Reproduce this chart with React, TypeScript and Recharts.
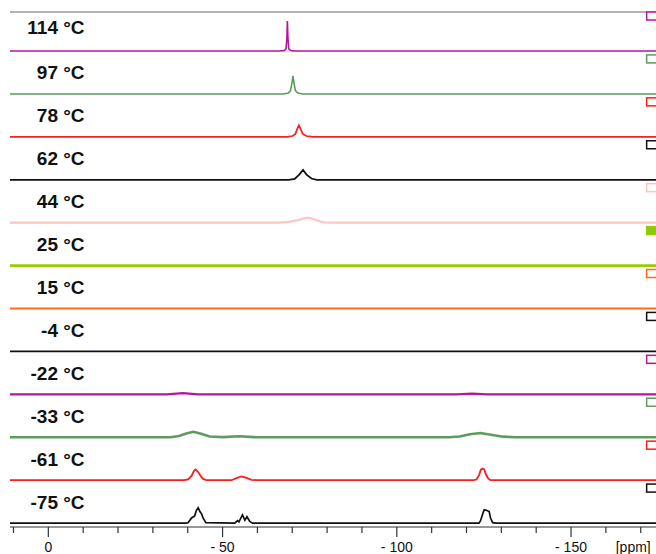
import { LineChart, Line, XAxis, YAxis, ReferenceDot, ReferenceLine } from "recharts";

// temperatures, top trace first
const labels = ["114 °C", "97 °C", "78 °C", "62 °C", "44 °C", "25 °C", "15 °C", "-4 °C", "-22 °C", "-33 °C", "-61 °C", "-75 °C"];
const colors = ["#b5169e", "#5c9c5c", "#ff1c1c", "#111111", "#ffc4c4", "#99cc00", "#ff6a1c", "#111111", "#b5169e", "#5c9c5c", "#ff1c1c", "#111111"];
const widths = [1.6, 1.6, 1.7, 1.8, 2.2, 2.8, 2, 1.8, 2.2, 2.6, 1.8, 1.7];

// spectra as [ppm, intensity] pairs
const s114 = [[11, 0], [-66, 0], [-67.7, 0.01], [-68.2, 0.05], [-68.45, 0.3], [-68.6, 0.7], [-68.75, 0.3], [-69, 0.05], [-69.6, 0.01], [-71, 0], [-185, 0]];
const s97 = [[11, 0], [-67.5, 0], [-68.9, 0.02], [-69.5, 0.08], [-69.9, 0.25], [-70.2, 0.42], [-70.5, 0.25], [-70.9, 0.08], [-71.6, 0.02], [-73, 0], [-185, 0]];
const s78 = [[11, 0], [-68.5, 0], [-70.1, 0.02], [-70.9, 0.07], [-71.4, 0.18], [-71.9, 0.27], [-72.4, 0.18], [-73, 0.07], [-74, 0.02], [-76, 0], [-185, 0]];
const s62 = [[11, 0], [-69, 0], [-70.7, 0.02], [-72, 0.12], [-73.1, 0.23], [-74.1, 0.12], [-75.5, 0.03], [-77, 0], [-185, 0]];
const s44 = [[11, 0], [-66, 0], [-69, 0.02], [-71.6, 0.06], [-73.4, 0.1], [-74.5, 0.12], [-75.6, 0.1], [-77.1, 0.05], [-79, 0.01], [-82, 0], [-185, 0]];
const s25 = [[11, 0], [-60, 0], [-185, 0]];
const s15 = [[11, 0], [-60, 0], [-185, 0]];
const sm4 = [[11, 0], [-60, 0], [-185, 0]];
const sm22 = [[11, 0], [-34, 0], [-38.6, 0.03], [-43, 0], [-117, 0], [-121.6, 0.02], [-126, 0], [-185, 0]];
const sm33 = [[11, 0], [-35, 0], [-37.5, 0.03], [-39.6, 0.09], [-41.6, 0.13], [-43.6, 0.09], [-46.3, 0.02], [-50, 0.005], [-54.9, 0.025], [-59, 0.005], [-62, 0], [-115, 0], [-118, 0.02], [-121, 0.07], [-124, 0.1], [-127, 0.06], [-130.5, 0.015], [-134, 0], [-185, 0]];
const sm61 = [[11, 0], [-39, 0], [-40.1, 0.02], [-41.1, 0.1], [-41.8, 0.22], [-42.3, 0.25], [-43, 0.19], [-43.7, 0.1], [-44.4, 0.03], [-45.4, 0], [-52.6, 0], [-54, 0.05], [-55.4, 0.09], [-56.7, 0.06], [-58.3, 0.01], [-60, 0], [-122.2, 0], [-122.9, 0.02], [-123.6, 0.12], [-124.1, 0.24], [-124.6, 0.27], [-125.1, 0.25], [-125.5, 0.15], [-126.2, 0.04], [-126.9, 0], [-185, 0]];
const sm75 = [[11, 0], [-39.5, 0], [-40.1, 0.01], [-41.1, 0.12], [-42, 0.17], [-42.5, 0.3], [-43, 0.36], [-43.5, 0.27], [-44, 0.21], [-44.4, 0.12], [-45.2, 0.01], [-53.5, 0], [-54.3, 0.06], [-54.7, 0.03], [-55.7, 0.19], [-56.4, 0.07], [-57, 0.15], [-57.8, 0.04], [-58.6, 0], [-123.6, 0], [-124, 0.05], [-124.4, 0.15], [-124.8, 0.25], [-125.1, 0.31], [-125.7, 0.3], [-126.5, 0.27], [-126.9, 0.12], [-127.5, 0.01], [-128.5, 0], [-185, 0]];

const spectra = [s114, s97, s78, s62, s44, s25, s15, sm4, sm22, sm33, sm61, sm75];
const ppmTicks = [10, 0, -10, -20, -30, -40, -50, -60, -70, -80, -90, -100, -110, -120, -130, -140, -150, -160, -170, -180];

const FONT = "'Liberation Sans', Arial, sans-serif";

function fmt(v: number) {
  return v === 0 ? "0" : `- ${Math.abs(v)}`;
}

function PpmTick(props: any) {
  const { x, y, payload } = props;
  const v = payload.value;
  const major = v % 50 === 0;
  return (
    <g>
      <line x1={x} x2={x} y1={y} y2={y + (major ? 10 : 6)} stroke="#333" strokeWidth={1.2} />
      {major && (
        <text x={x} y={y + 25} textAnchor="middle" fontSize={14} fill="#111" fontFamily={FONT}>
          {fmt(v)}
        </text>
      )}
      {v === -170 && (
        <text x={x - 25} y={y + 25} textAnchor="start" fontSize={14} fill="#111" fontFamily={FONT}>
          [ppm]
        </text>
      )}
    </g>
  );
}

export default function App() {
  const n = spectra.length;
  return (
    <div style={{ position: "absolute", left: 0, top: 0, width: 656, height: 554, overflow: "hidden", background: "#fff" }}>
      <LineChart width={693} height={560} margin={{ top: 12, right: 0, left: 10, bottom: 0 }}>
        <XAxis
          type="number"
          dataKey="x"
          domain={[-185, 11]}
          reversed
          allowDataOverflow
          ticks={ppmTicks}
          interval={0}
          tickSize={0}
          tickMargin={0}
          tickLine={false}
          tick={<PpmTick />}
          axisLine={{ stroke: "#333", strokeWidth: 1.2 }}
          height={33}
        />
        <YAxis type="number" domain={[0, 12]} width={0} tick={false} tickLine={false} axisLine={{ stroke: "#666", strokeWidth: 1.2 }} />
        <ReferenceLine y={12} stroke="#9a9a9a" strokeWidth={1.5} />
        {spectra.map((s, i) => {
          const offset = 0.09 + (n - 1 - i);
          return (
            <Line
              key={labels[i]}
              data={s.map(([x, y]) => ({ x, y: y + offset }))}
              dataKey="y"
              type="linear"
              stroke={colors[i]}
              strokeWidth={widths[i]}
              dot={false}
              isAnimationActive={false}
            />
          );
        })}
        {labels.map((lab, i) => {
          const offset = 0.09 + (n - 1 - i);
          return (
            <ReferenceDot
              key={"l" + lab}
              x={-10.4}
              y={offset + (i === 0 ? 0.4 : 0.34)}
              r={0}
              shape={(p: any) => (
                <text x={p.cx} y={p.cy} textAnchor="end" fontSize={19} fontWeight="bold" fill="#111" fontFamily={FONT}>
                  {lab}
                </text>
              )}
            />
          );
        })}
        {labels.map((lab, i) => {
          const offset = 0.09 + (n - 1 - i);
          const filled = lab === "25 °C";
          return (
            <ReferenceDot
              key={"m" + lab}
              x={-171.7}
              y={offset + 0.91}
              r={0}
              shape={(p: any) => (
                <rect x={p.cx} y={p.cy} width={11} height={8} fill={filled ? "#88cc00" : "#fff"} stroke={colors[i]} strokeWidth={1.5} />
              )}
            />
          );
        })}
      </LineChart>
    </div>
  );
}
